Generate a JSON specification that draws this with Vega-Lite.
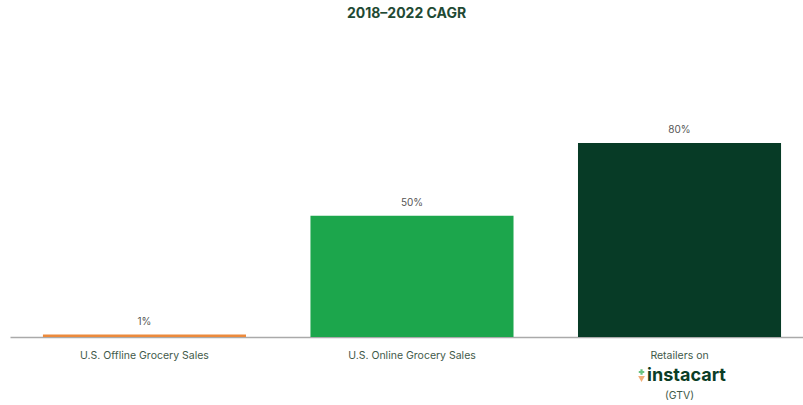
{
  "$schema": "https://vega.github.io/schema/vega-lite/v6.json",
  "autosize": {"type": "none"},
  "width": 793,
  "height": 242.5,
  "padding": {"left": 10, "top": 94.5, "right": 0, "bottom": 68},
  "background": "white",
  "config": {"view": {"stroke": null}, "font": "Inter"},
  "title": {
    "text": "2018–2022 CAGR",
    "fontSize": 14,
    "fontWeight": "bold",
    "color": "#1f4a34",
    "anchor": "middle",
    "offset": 74,
    "font": "Inter"
  },
  "data": {
    "values": [
      {"category": "U.S. Offline Grocery Sales", "cagr": 1, "label": "1%"},
      {"category": "U.S. Online Grocery Sales", "cagr": 50, "label": "50%"},
      {"category": "Retailers on Instacart (GTV)", "cagr": 80, "label": "80%"}
    ]
  },
  "encoding": {
    "x": {
      "field": "category",
      "type": "nominal",
      "sort": null,
      "scale": {"paddingInner": 0.241, "paddingOuter": 0.1026, "align": 0.6},
      "axis": {
        "title": null,
        "domainColor": "#aaaaaa",
        "domainWidth": 1.5,
        "ticks": false,
        "labelAngle": 0,
        "labelFontSize": 10.5,
        "labelColor": "#3f5a4a",
        "labelPadding": 13,
        "labelBaseline": "top",
        "labelExpr": "datum.value == 'Retailers on Instacart (GTV)' ? 'Retailers on' : datum.label"
      }
    }
  },
  "layer": [
    {
      "mark": {"type": "bar"},
      "encoding": {
        "y": {"field": "cagr", "type": "quantitative", "scale": {"domain": [0, 100]}, "axis": null},
        "color": {
          "field": "category",
          "type": "nominal",
          "scale": {
            "domain": ["U.S. Offline Grocery Sales", "U.S. Online Grocery Sales", "Retailers on Instacart (GTV)"],
            "range": ["#ec8a3c", "#1ca64c", "#073b26"]
          },
          "legend": null
        }
      }
    },
    {
      "mark": {"type": "text", "baseline": "bottom", "dy": -8, "fontSize": 10, "color": "#555555"},
      "encoding": {
        "y": {"field": "cagr", "type": "quantitative"},
        "text": {"field": "label"}
      }
    },
    {
      "transform": [{"filter": "datum.category == 'Retailers on Instacart (GTV)'"}],
      "mark": {"type": "text", "text": "instacart", "baseline": "middle", "dy": 39, "dx": 7, "fontSize": 18, "fontWeight": "bold", "color": "#0b3d26", "font": "Inter"},
      "encoding": {"y": {"datum": 0, "type": "quantitative"}}
    },
    {
      "transform": [{"filter": "datum.category == 'Retailers on Instacart (GTV)'"}],
      "mark": {"type": "text", "text": "(GTV)", "baseline": "middle", "dy": 59, "fontSize": 10.5, "color": "#3f5a4a", "font": "Inter"},
      "encoding": {"y": {"datum": 0, "type": "quantitative"}}
    },
    {
      "transform": [{"filter": "datum.category == 'Retailers on Instacart (GTV)'"}],
      "mark": {"type": "point", "shape": "triangle-down", "filled": true, "size": 45, "color": "#ec8a3c", "xOffset": -38, "yOffset": 42},
      "encoding": {"y": {"datum": 0, "type": "quantitative"}}
    },
    {
      "transform": [{"filter": "datum.category == 'Retailers on Instacart (GTV)'"}],
      "mark": {"type": "point", "shape": "cross", "filled": true, "size": 30, "color": "#2aa84a", "xOffset": -38, "yOffset": 35},
      "encoding": {"y": {"datum": 0, "type": "quantitative"}}
    }
  ]
}
